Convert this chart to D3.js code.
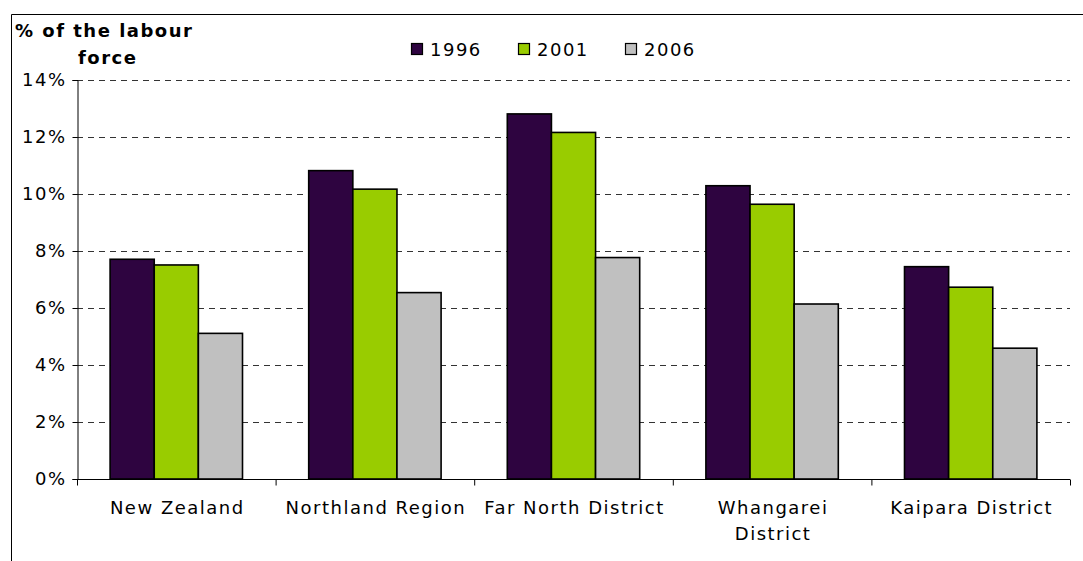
<!DOCTYPE html>
<html>
<head>
<meta charset="utf-8">
<script src="https://cdn.jsdelivr.net/npm/d3@7"></script>
<style>
  body { margin: 0; background: #fff; }
  svg { display: block; font-family: "DejaVu Sans", Verdana, sans-serif; }
  text { letter-spacing: 1.5px; }
</style>
</head>
<body>
<svg id="chart" width="1083" height="561"></svg>
<script>
const categories = ["New Zealand", "Northland Region", "Far North District", "Whangarei District", "Kaipara District"];
const seriesNames = ["1996", "2001", "2006"];
const values1996 = [7.71, 10.82, 12.81, 10.29, 7.45];
const values2001 = [7.51, 10.17, 12.16, 9.64, 6.73];
const values2006 = [5.11, 6.54, 7.77, 6.14, 4.59];
const yTicks = [0, 2, 4, 6, 8, 10, 12, 14];
const colors = ["#2e0440", "#99cc00", "#c0c0c0"];

const series = [values1996, values2001, values2006];
const svg = d3.select("#chart");
const W = 1083, H = 561;
const FS = 18;

// frame
svg.append("line").attr("x1", 11.5).attr("x2", W).attr("y1", 14.5).attr("y2", 14.5).attr("stroke", "#000").attr("stroke-width", 1);
svg.append("line").attr("x1", 11.5).attr("x2", 11.5).attr("y1", 14.5).attr("y2", H).attr("stroke", "#000").attr("stroke-width", 1);

const x = d3.scaleBand().domain(categories).range([77, 1070]).paddingInner(0).paddingOuter(0);
const y = d3.scaleLinear().domain([0, 14]).range([479, 80]);
const xs = d3.scaleBand().domain(seriesNames).range([0, x.bandwidth() * 2 / 3]);

// gridlines
svg.append("g").selectAll("line").data(yTicks.filter(d => d > 0)).join("line")
  .attr("x1", 77).attr("x2", 1070)
  .attr("y1", d => Math.round(y(d)) + 0.5).attr("y2", d => Math.round(y(d)) + 0.5)
  .attr("stroke", "#333").attr("stroke-width", 1).attr("stroke-dasharray", "6,5");

// bars
const groups = svg.append("g").selectAll("g").data(categories).join("g")
  .attr("transform", d => `translate(${x(d) + x.bandwidth() / 6},0)`);
groups.selectAll("rect").data((c, i) => seriesNames.map((s, j) => ({ s, v: series[j][i], j })))
  .join("rect")
  .attr("x", d => xs(d.s))
  .attr("width", xs.bandwidth())
  .attr("y", d => y(d.v))
  .attr("height", d => y(0) - y(d.v))
  .attr("fill", d => colors[d.j])
  .attr("stroke", "#000").attr("stroke-width", 1.6);

// y axis
const yAxis = d3.axisLeft(y).tickValues(yTicks).tickFormat(d => d + "%").tickSize(5).tickPadding(6);
const yg = svg.append("g").attr("transform", "translate(77.5,0)").call(yAxis);
yg.select(".domain").attr("stroke", "#000");
yg.selectAll("text").attr("font-size", FS).attr("fill", "#000").attr("font-family", "DejaVu Sans, Verdana, sans-serif");

// x axis
const xg = svg.append("g").attr("transform", `translate(0,${y(0) + 0.5})`);
xg.append("line").attr("x1", 77).attr("x2", 1070).attr("stroke", "#000");
xg.selectAll("line.tick").data(categories.concat(["end"])).join("line").attr("class", "tick")
  .attr("x1", (d, i) => (i < categories.length ? x(d) : 1070) + 0.5)
  .attr("x2", (d, i) => (i < categories.length ? x(d) : 1070) + 0.5)
  .attr("y1", 0).attr("y2", 6).attr("stroke", "#000");
const xlabelLines = { "Whangarei District": ["Whangarei", "District"] };
xg.selectAll("text").data(categories).join("text")
  .attr("text-anchor", "middle").attr("font-size", FS).attr("fill", "#000")
  .attr("transform", d => `translate(${x(d) + x.bandwidth() / 2 + 1},34)`)
  .each(function (d) {
    const lines = xlabelLines[d] || [d];
    d3.select(this).selectAll("tspan").data(lines).join("tspan")
      .attr("x", 0).attr("dy", (l, i) => i === 0 ? 0 : 26).text(l => l);
  });

// y title
const t = svg.append("text").attr("font-size", FS).attr("font-weight", "bold").attr("fill", "#000");
t.append("tspan").attr("x", 15).attr("y", 37).text("% of the labour");
t.append("tspan").attr("x", 78).attr("y", 64).text("force");

// legend
const legendX = [411, 518, 625];
const lg = svg.append("g").selectAll("g").data(seriesNames).join("g")
  .attr("transform", (d, i) => `translate(${legendX[i]},43.5)`);
lg.append("rect").attr("x", 0.5).attr("width", 11).attr("height", 11).attr("fill", (d, i) => colors[i]).attr("stroke", "#000").attr("stroke-width", 1.2);
lg.append("text").attr("x", 19).attr("y", 12).attr("font-size", FS).attr("fill", "#000").text(d => d);
</script>
</body>
</html>
